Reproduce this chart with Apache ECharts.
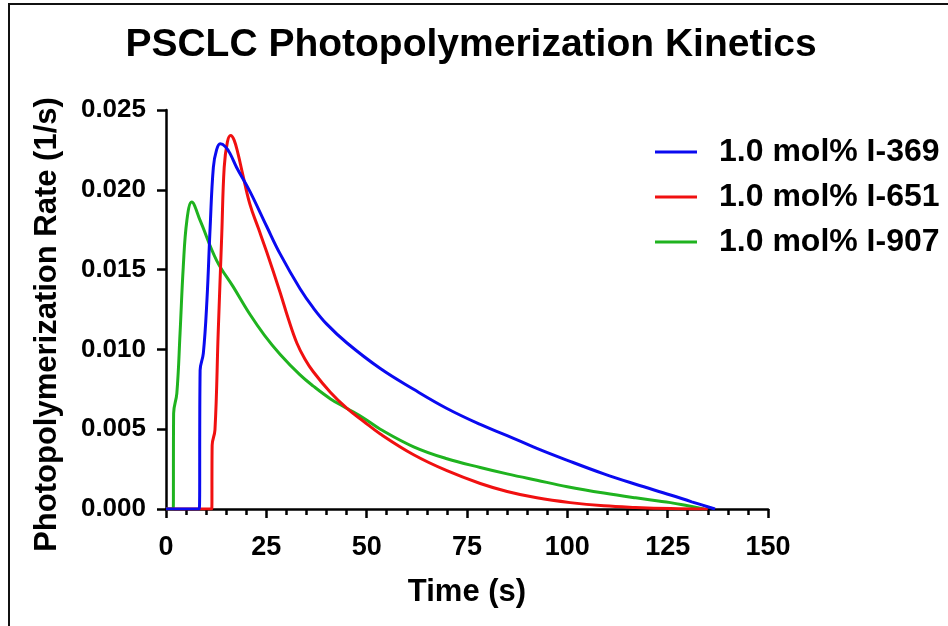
<!DOCTYPE html>
<html>
<head>
<meta charset="utf-8">
<script src="https://cdn.jsdelivr.net/npm/echarts@6/dist/echarts.min.js"></script>
<style>
html,body{margin:0;padding:0;background:#fff;}
#wrap{position:relative;width:948px;height:626px;}
#chart{width:948px;height:626px;}
#frame{position:absolute;left:8px;top:3px;right:-4px;bottom:-4px;border-top:2px solid #111;border-left:2px solid #111;pointer-events:none;}
</style>
</head>
<body>
<div id="wrap"><div id="chart"></div><div id="frame"></div></div>
<script>
const titleText = 'PSCLC Photopolymerization Kinetics';
const xAxisName = 'Time (s)';
const yAxisName = 'Photopolymerization Rate (1/s)';
const seriesNames = ['1.0 mol% I-369', '1.0 mol% I-651', '1.0 mol% I-907'];

const timeI369 = [0, 8.3, 8.5, 9.3, 10.2, 11.0, 11.8, 12.6, 13.5, 14.8, 16.0, 17.6, 20.9, 25.1, 28.4, 33.4, 36.7, 40.0, 45.1, 53.4, 61.7, 70.0, 78.3, 85.0, 92.4, 100.0, 109.1, 117.0, 125.7, 131.0, 136.8];
const rateI369 = [0, 0, 0.0087, 0.00975, 0.01308, 0.01766, 0.02141, 0.0225, 0.02288, 0.0227, 0.02225, 0.0214, 0.0199, 0.0177, 0.0160, 0.0138, 0.0126, 0.0116, 0.0104, 0.0088, 0.0075, 0.0063, 0.0053, 0.0046, 0.0038, 0.00305, 0.0022, 0.00155, 0.00088, 0.00045, 0];

const timeI651 = [0, 11.4, 11.5, 12.2, 13.0, 13.9, 14.5, 15.3, 16.1, 17.0, 18.0, 19.0, 20.9, 23.0, 25.1, 28.4, 30.5, 32.6, 34.6, 36.7, 41.0, 45.1, 49.2, 53.4, 61.7, 70.0, 78.3, 85.0, 92.4, 100.7, 109.1, 117.0, 125.7, 135.0];
const rateI651 = [0, 0, 0.0040, 0.00496, 0.0110, 0.01725, 0.02141, 0.0230, 0.0234, 0.0231, 0.0222, 0.0211, 0.0191, 0.0176, 0.0161, 0.0136, 0.0119, 0.0104, 0.0094, 0.0086, 0.0073, 0.0063, 0.0055, 0.0047, 0.0034, 0.0024, 0.0016, 0.0011, 0.0007, 0.0004, 0.0002, 0.0001, 0.00003, 0];

const timeI907 = [0, 1.8, 1.9, 2.7, 3.5, 4.3, 5.2, 6.4, 8.5, 12.6, 16.8, 20.9, 24.5, 28.4, 33.4, 36.7, 41.0, 45.1, 49.2, 53.4, 61.7, 70.0, 78.3, 85.0, 92.4, 100.0, 109.1, 117.0, 125.7, 130.0, 134.0];
const rateI907 = [0, 0, 0.0060, 0.00725, 0.0110, 0.01516, 0.01808, 0.01923, 0.01808, 0.01558, 0.0139, 0.0122, 0.0109, 0.0097, 0.0084, 0.0077, 0.0069, 0.0063, 0.0057, 0.0050, 0.0039, 0.00315, 0.0026, 0.0022, 0.0018, 0.0014, 0.0010, 0.0007, 0.0004, 0.0002, 0];

const xTicks = [0, 25, 50, 75, 100, 125, 150];
const yTicks = [0, 0.005, 0.010, 0.015, 0.020, 0.025];

const colors = ['#0a0af0', '#f01010', '#1fb31f'];
const FONT = '"Liberation Sans", Arial, sans-serif';

function zip(t, v) { return t.map((x, i) => [x, v[i]]); }

const chart = echarts.init(document.getElementById('chart'), null, {renderer: 'canvas'});
const axisCommon = {
  axisLine: {show: true, lineStyle: {color: '#000', width: 2.5}},
  axisTick: {show: true, inside: false, length: 9, lineStyle: {color: '#000', width: 2.5}},
  splitLine: {show: false},
};
chart.setOption({
  backgroundColor: '#fff',
  animation: false,
  title: {
    text: titleText, left: 466, top: 21, textAlign: 'center',
    textStyle: {color: '#000', fontFamily: FONT, fontWeight: 'bold', fontSize: 39}
  },
  legend: {
    orient: 'vertical', left: 650, top: 131, itemGap: 13,
    itemWidth: 42, itemHeight: 32,
    data: seriesNames.map((n, i) => ({name: n, icon: 'path://M0,0 L42,0 L42,3 L0,3 Z', itemStyle: {color: colors[i]}})),
    textStyle: {color: '#000', fontFamily: FONT, fontWeight: 'bold', fontSize: 32, padding: [0, 0, 0, 17]}
  },
  grid: {left: 166, right: 180, top: 110, bottom: 117, containLabel: false},
  xAxis: Object.assign({}, axisCommon, {
    type: 'value', min: xTicks[0], max: xTicks[xTicks.length - 1], interval: 25,
    name: xAxisName, nameLocation: 'middle', nameGap: 68,
    nameTextStyle: {color: '#000', fontFamily: FONT, fontWeight: 'bold', fontSize: 31},
    minorTick: {show: true, splitNumber: 5, length: 6, lineStyle: {color: '#000', width: 2.5}},
    minorSplitLine: {show: false},
    axisLabel: {color: '#000', fontFamily: FONT, fontWeight: 'bold', fontSize: 27, margin: 25,
      formatter: v => xTicks.includes(v) ? String(v) : ''}
  }),
  yAxis: Object.assign({}, axisCommon, {
    type: 'value', min: yTicks[0], max: yTicks[yTicks.length - 1], interval: 0.005,
    name: yAxisName, nameLocation: 'middle', nameGap: 103,
    nameTextStyle: {color: '#000', fontFamily: FONT, fontWeight: 'bold', fontSize: 31, padding: [0, 30, 0, 0]},
    axisLabel: {color: '#000', fontFamily: FONT, fontWeight: 'bold', fontSize: 26, margin: 20,
      formatter: v => v.toFixed(3)}
  }),
  series: [
    {name: seriesNames[0], type: 'line', data: zip(timeI369, rateI369)},
    {name: seriesNames[1], type: 'line', data: zip(timeI651, rateI651)},
    {name: seriesNames[2], type: 'line', data: zip(timeI907, rateI907)}
  ].map((s, i) => Object.assign(s, {
    symbol: 'none', smooth: 0.4, color: colors[i],
    lineStyle: {color: colors[i], width: 3}, z: 3 - i
  }))
});
</script>
</body>
</html>
